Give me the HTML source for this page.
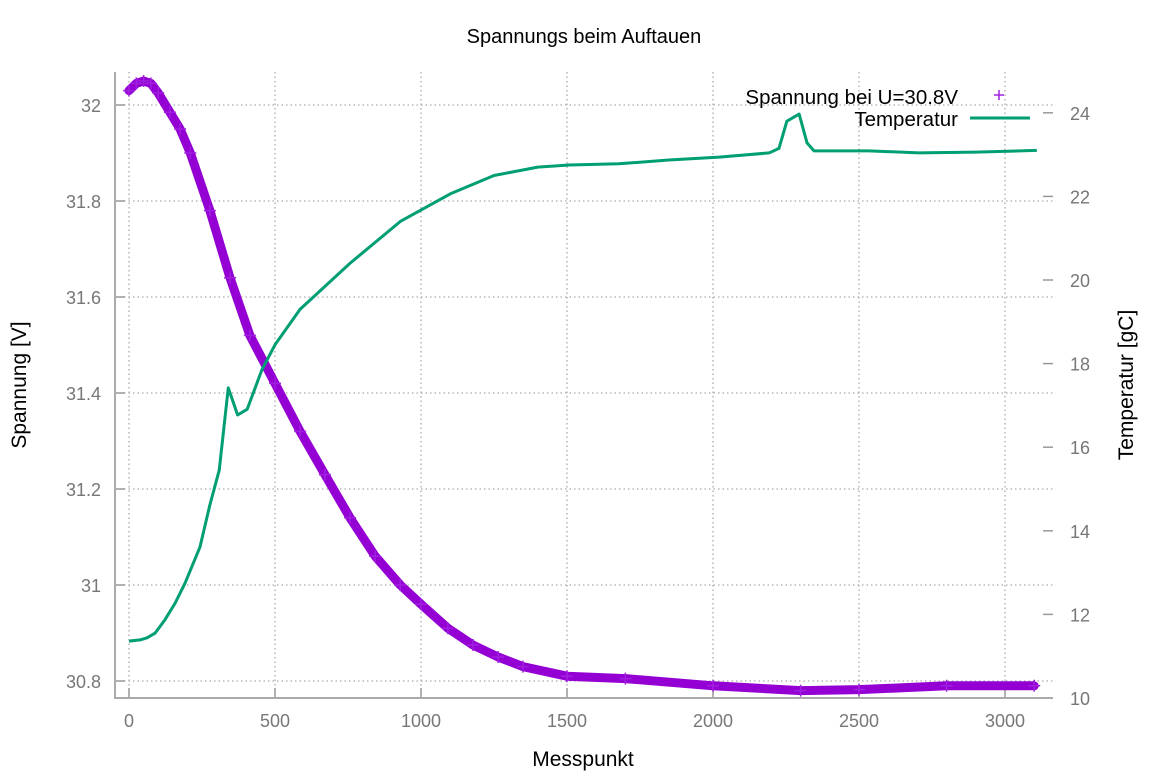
<!DOCTYPE html>
<html><head><meta charset="utf-8"><style>
html,body{margin:0;padding:0;background:#fff;}
svg{display:block;font-family:"Liberation Sans",Arial,sans-serif;}
</style></head><body>
<svg id="chart" width="1173" height="775" viewBox="0 0 1173 775" xmlns="http://www.w3.org/2000/svg">
<text x="584" y="43" text-anchor="middle" font-size="20" fill="#000">Spannungs beim Auftauen</text>
<g id="grid"></g>
<g id="axes"></g>
<g id="series"></g>
<text x="583" y="766" text-anchor="middle" font-size="21">Messpunkt</text>
<text transform="translate(26,385) rotate(-90)" text-anchor="middle" font-size="21">Spannung [V]</text>
<text transform="translate(1133,385) rotate(-90)" text-anchor="middle" font-size="21">Temperatur [gC]</text>
<g>
<text x="958" y="104" text-anchor="end" font-size="20.5">Spannung bei U=30.8V</text>
<path d="M994,95h10M999,90v10" stroke="#a020e0" stroke-width="1.5"/>
<text x="958" y="126" text-anchor="end" font-size="20.5">Temperatur</text>
<line x1="970" y1="118" x2="1030" y2="118" stroke="#009e73" stroke-width="3"/>
</g>
</svg>
<script>
const xTicks=[0,500,1000,1500,2000,2500,3000];
const yTicks=[30.8,31,31.2,31.4,31.6,31.8,32];
const yTickLabels=["30.8","31","31.2","31.4","31.6","31.8","32"];
const y2Ticks=[10,12,14,16,18,20,22,24];
const voltX=[0,25,50,75,100,140,175,210,277,346,414,500,586,671,757,843,929,1000,1092,1178,1264,1349,1500,1700,2000,2300,2500,2800,3100];
const voltY=[32.03,32.045,32.05,32.045,32.025,31.985,31.95,31.9,31.78,31.64,31.52,31.42,31.32,31.23,31.14,31.06,31.0,30.96,30.91,30.875,30.85,30.83,30.81,30.805,30.79,30.78,30.782,30.79,30.79];
const tempX=[0,38,62,89,123,158,192,243,277,309,340,372,405,455,500,586,757,929,1100,1250,1400,1507,1678,1849,2021,2192,2226,2253,2295,2322,2346,2534,2705,2900,3109];
const tempY=[11.36,11.39,11.44,11.55,11.87,12.27,12.75,13.61,14.62,15.45,17.42,16.77,16.91,17.85,18.45,19.3,20.4,21.4,22.06,22.5,22.7,22.75,22.78,22.87,22.94,23.04,23.15,23.8,23.97,23.28,23.09,23.09,23.04,23.06,23.1];
const ns="http://www.w3.org/2000/svg";
const X=v=>129+v*0.292;
const Y=v=>105+(32-v)*480;
const Y2=v=>698-(v-10)*41.8;
function mk(tag,attrs,parent,txt){const e=document.createElementNS(ns,tag);for(const k in attrs)e.setAttribute(k,attrs[k]);if(txt!==undefined)e.textContent=txt;parent.appendChild(e);return e;}
const grid=document.getElementById('grid'),axes=document.getElementById('axes'),series=document.getElementById('series');
xTicks.forEach(t=>{
 const g=mk('line',{x1:X(t),x2:X(t),y1:72,y2:698,stroke:'#aaa','stroke-width':1.3,'stroke-dasharray':'1.5,3'},grid);
 
 
 const tk=mk('line',{x1:X(t),x2:X(t),y1:688,y2:698,stroke:'#999','stroke-width':1.5},axes);
 
 
 const l=mk('text',{x:X(t),y:727,'text-anchor':'middle','font-size':18,fill:'#777'},axes,String(t));
 
 
});
yTicks.forEach((t,i)=>{
 const g=mk('line',{x1:115,x2:1053,y1:Y(t),y2:Y(t),stroke:'#aaa','stroke-width':1.3,'stroke-dasharray':'1.5,3'},grid);
 
 
 const tk=mk('line',{x1:115,x2:125,y1:Y(t),y2:Y(t),stroke:'#999','stroke-width':1.5},axes);
 
 
 const l=mk('text',{x:101,y:Y(t)+7,'text-anchor':'end','font-size':18,fill:'#777'},axes,yTickLabels[i]);
 
 
});
y2Ticks.forEach(t=>{
 const tk=mk('line',{x1:1043,x2:1053,y1:Y2(t),y2:Y2(t),stroke:'#999','stroke-width':1.5},axes);
 
 
 const l=mk('text',{x:1070,y:Y2(t)+7,'font-size':18,fill:'#777'},axes,String(t));
 
 
});
const la=mk('line',{x1:115,x2:115,y1:72,y2:699,stroke:'#aaa','stroke-width':2},axes);


const ba=mk('line',{x1:114,x2:1053,y1:698,y2:698,stroke:'#aaa','stroke-width':2},axes);


const vp=mk('polyline',{points:voltX.map((x,i)=>X(x)+','+Y(voltY[i])).join(' '),fill:'none',stroke:'#9400d3','stroke-width':9,'stroke-linejoin':'round','stroke-linecap':'round'},series);


voltX.forEach((x,i)=>{
 const p=mk('path',{d:`M${X(x)-6},${Y(voltY[i])}h12M${X(x)},${Y(voltY[i])-6}v12`,stroke:'#a020e0','stroke-width':1.5},series);
 
 
});
const tp=mk('polyline',{points:tempX.map((x,i)=>X(x)+','+Y2(tempY[i])).join(' '),fill:'none',stroke:'#009e73','stroke-width':3,'stroke-linejoin':'round'},series);


</script>
</body></html>
